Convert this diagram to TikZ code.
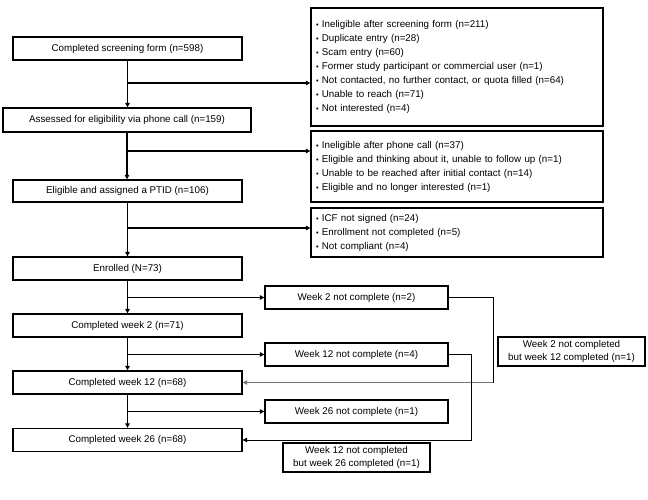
\documentclass[tikz,border=0pt]{standalone}
\usepackage{fontspec}
\setmainfont{Liberation Sans}
\usetikzlibrary{arrows.meta,positioning,calc}
\newcommand{\exbul}{{\fontsize{7.5}{7}\selectfont\textbullet}\ }

\begin{document}
\begin{tikzpicture}[%
    x=1pt, y=-1pt,
    >={Triangle[length=4.5pt,width=4.5pt]},
    font=\fontsize{9.8}{14}\selectfont,
    ]
\tikzset{
  box/.style={draw, line width=1.3pt, inner sep=0pt, minimum height=23pt, align=center},
  flow/.style={box, minimum width=229pt},
  exbox/.style={draw, line width=1.3pt, inner sep=0pt, minimum width=292pt, text width=282pt, align=left},
  drop/.style={box, minimum width=183pt},
  note/.style={box, minimum width=147pt, minimum height=29pt, font=\fontsize{9.8}{13.5}\selectfont},
  ar/.style={->, line width=1.2pt},
  back/.style={line width=1pt}
}
\useasboundingbox (0,0) rectangle (648,500);
    % main flow
    \node [flow] (scr) at (127.5,48.5) {Completed screening form (n=598)};
    \node [flow, minimum width=248pt, minimum height=24pt] (phone) at (127,120) {Assessed for eligibility via phone call (n=159)};
    \node [flow, minimum height=22pt] (ptid) at (127.5,191) {Eligible and assigned a PTID (n=106)};
    \node [flow] (enr) at (127.5,268.5) {Enrolled (N=73)};
    \node [flow] (cw2) at (127.5,325.5) {Completed week 2 (n=71)};
    \node [flow] (cw12) at (127.5,382.5) {Completed week 12 (n=68)};
    \node [flow] (cw26) at (127.5,440) {Completed week 26 (n=68)};
    \foreach \a/\b in {scr/phone, phone/ptid, ptid/enr, enr/cw2, cw2/cw12, cw12/cw26}
        \draw [ar] (\a.south) -- (\a.south |- \b.north);
    % exclusions
    \node [exbox, minimum height=118pt] (ex1) at (457,67) {%
        \exbul Ineligible after screening form (n=211)\\
        \exbul Duplicate entry (n=28)\\
        \exbul Scam entry (n=60)\\
        \exbul Former study participant or commercial user (n=1)\\
        \exbul Not contacted, no further contact, or quota filled (n=64)\\
        \exbul Unable to reach (n=71)\\
        \exbul Not interested (n=4)};
    \node [exbox, minimum height=71pt] (ex2) at (457,166.5) {%
        \exbul Ineligible after phone call (n=37)\\
        \exbul Eligible and thinking about it, unable to follow up (n=1)\\
        \exbul Unable to be reached after initial contact (n=14)\\
        \exbul Eligible and no longer interested (n=1)};
    \node [exbox, minimum height=49pt] (ex3) at (457,232.5) {%
        \exbul ICF not signed (n=24)\\
        \exbul Enrollment not completed (n=5)\\
        \exbul Not compliant (n=4)};
    \coordinate (b1) at (127.5,83);
    \coordinate (b2) at (127.5,151);
    \coordinate (b3) at (127.5,228);
        \draw [ar] (b1) -- (b1 -| ex1.west);
        \draw [ar] (b2) -- (b2 -| ex2.west);
        \draw [ar] (b3) -- (b3 -| ex3.west);
    % follow-up losses
    \node [drop] (nw2) at (356.5,297.5) {Week 2 not complete (n=2)};
    \node [drop] (nw12) at (356.5,354.5) {Week 12 not complete (n=4)};
    \node [drop] (nw26) at (356.5,411.5) {Week 26 not complete (n=1)};
    \foreach \a/\b in {enr/nw2, cw2/nw12, cw12/nw26}
        \draw [ar] (\a.south |- \b.west) -- (\b.west);
    % returned later
    \node [note] (rec12) at (571.5,351.5) {Week 2 not completed\\ but week 12 completed (n=1)};
    \node [note] (rec26) at (356.5,457.5) {Week 12 not completed\\ but week 26 completed (n=1)};
    \coordinate (k1) at (493,297.5);
    \coordinate (k1b) at (493,382.5);
    \coordinate (k2) at (471,354.5);
    \coordinate (k2b) at (471,440);
        \draw [back] (nw2.east) -- (k1) -- (k1b);
        \draw [back, ->, black!55] (k1b) -- (cw12.east);
        \draw [back, ->] (nw12.east) -- (k2) -- (k2b) -- (cw26.east);
\end{tikzpicture}
\end{document}
